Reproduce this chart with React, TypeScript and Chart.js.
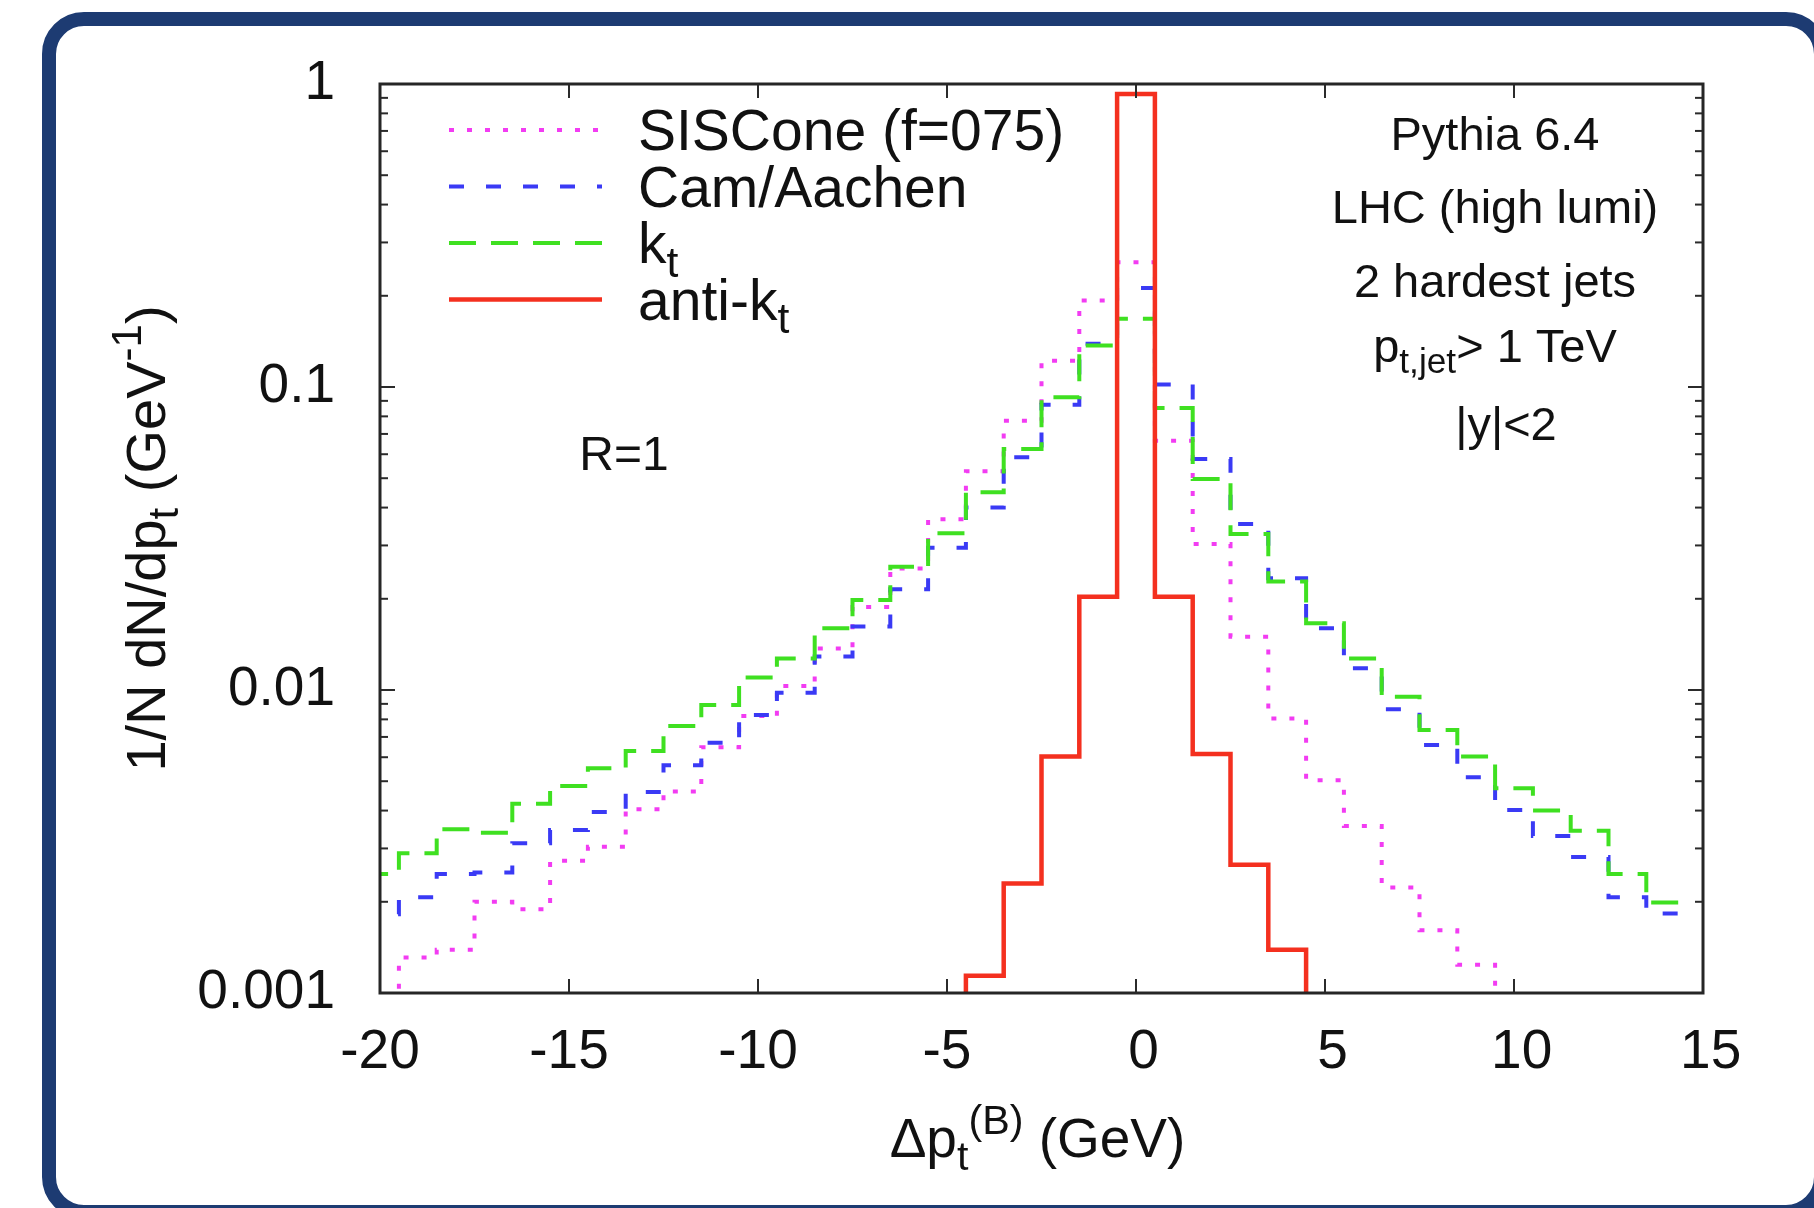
import React, { useEffect, useRef } from "react";
import { Chart, registerables } from "chart.js";

Chart.register(...registerables);

// Δp_t bin centres (GeV), 1 GeV wide bins
const BIN_WIDTH = 1;
const BIN_CENTERS = [
  -20, -19, -18, -17, -16, -15, -14, -13, -12, -11, -10, -9, -8, -7, -6, -5, -4, -3,
  -2, -1, 0, 1, 2, 3, 4, 5, 6, 7, 8, 9, 10, 11, 12, 13, 14,
];

// 1/N dN/dp_t per bin (GeV^-1); null = below the plotted range
const SISCONE = [
  null, 0.00131, 0.00139, 0.002, 0.00189, 0.00273, 0.00304, 0.00404, 0.00462, 0.00647,
  0.0082, 0.0103, 0.0137, 0.0188, 0.0252, 0.0366, 0.0527, 0.0774, 0.122, 0.193,
  0.258, 0.0665, 0.0303, 0.015, 0.00806, 0.00504, 0.00356, 0.00223, 0.00161, 0.00124,
  null, null, null, null, null,
];
const CAM_AACHEN = [
  0.00182, 0.00207, 0.00247, 0.0025, 0.00312, 0.00345, 0.00396, 0.00461, 0.00565, 0.0067,
  0.00827, 0.0098, 0.0129, 0.0162, 0.0215, 0.0295, 0.04, 0.0586, 0.0874, 0.139,
  0.212, 0.102, 0.0579, 0.0353, 0.0234, 0.016, 0.0118, 0.00864, 0.00658, 0.00515,
  0.00402, 0.0033, 0.00281, 0.00207, 0.00183,
];
const KT = [
  0.00247, 0.00289, 0.00347, 0.00338, 0.00421, 0.00482, 0.00552, 0.00629, 0.0076, 0.00892,
  0.011, 0.0127, 0.016, 0.0198, 0.0255, 0.0329, 0.0449, 0.0624, 0.0925, 0.137,
  0.168, 0.0852, 0.0497, 0.0327, 0.0228, 0.0166, 0.0127, 0.0095, 0.00738, 0.00603,
  0.00474, 0.004, 0.00343, 0.00247, 0.00199,
];
const ANTI_KT = [
  null, null, null, null, null, null, null, null, null, null,
  null, null, null, null, null, null, 0.00114, 0.0023, 0.00603, 0.0203,
  0.927, 0.0203, 0.00615, 0.00265, 0.00139, null, null, null, null, null,
  null, null, null, null, null,
];

const X_TICKS = [-20, -15, -10, -5, 0, 5, 10, 15];
const Y_DECADES = [0.001, 0.01, 0.1, 1];
const Y_MIN = 0.001;
const Y_MAX = 1;

const FONT = "'Liberation Sans', Arial, Helvetica, sans-serif";

type Part = { t: string; sub?: boolean; sup?: boolean };

const SERIES = [
  { label: "SISCone (f=075)", rich: [{ t: "SISCone (f=075)" }] as Part[], values: SISCONE, color: "#f23cf2", dash: [5, 13], width: 4, order: 3 },
  { label: "Cam/Aachen", rich: [{ t: "Cam/Aachen" }] as Part[], values: CAM_AACHEN, color: "#3a3af5", dash: [15, 22], width: 4, order: 2 },
  { label: "kt", rich: [{ t: "k" }, { t: "t", sub: true }] as Part[], values: KT, color: "#3fe021", dash: [27, 15], width: 4, order: 1 },
  { label: "anti-kt", rich: [{ t: "anti-k" }, { t: "t", sub: true }] as Part[], values: ANTI_KT, color: "#f4301f", dash: [] as number[], width: 4.5, order: 0 },
];

const INFO_LINES: Part[][] = [
  [{ t: "Pythia 6.4" }],
  [{ t: "LHC (high lumi)" }],
  [{ t: "2 hardest jets" }],
  [{ t: "p" }, { t: "t,jet", sub: true }, { t: "> 1 TeV" }],
  [{ t: "|y|<2" }],
];

// histogram outline: a point on each left bin edge plus the closing right edge
function histSteps(values: (number | null)[]) {
  const below = Y_MIN / 100;
  const pts = values.map((v, i) => ({ x: BIN_CENTERS[i] - BIN_WIDTH / 2, y: v ?? below }));
  const last = values.length - 1;
  pts.push({ x: BIN_CENTERS[last] + BIN_WIDTH / 2, y: values[last] ?? below });
  return pts;
}

function drawRich(ctx: CanvasRenderingContext2D, parts: Part[], x: number, y: number, size: number, align: "left" | "center") {
  const small = size * 0.75;
  const fontFor = (p: Part) => `${p.sub || p.sup ? small : size}px ${FONT}`;
  const widths = parts.map((p) => {
    ctx.font = fontFor(p);
    return ctx.measureText(p.t).width;
  });
  const total = widths.reduce((a, b) => a + b, 0);
  let cx = align === "center" ? x - total / 2 : x;
  ctx.textAlign = "left";
  ctx.textBaseline = "alphabetic";
  parts.forEach((p, i) => {
    ctx.font = fontFor(p);
    const dy = p.sub ? size * 0.24 : p.sup ? -size * 0.42 : 0;
    ctx.fillText(p.t, cx, y + dy);
    cx += widths[i];
  });
}

const decorations = {
  id: "decorations",
  afterDraw(chart: any) {
    const { ctx, chartArea: a, scales } = chart;
    const xs = scales.x;
    const ys = scales.y;
    ctx.save();

    // inward ticks on all four sides
    ctx.strokeStyle = "#2b2b2b";
    ctx.lineWidth = 2;
    ctx.setLineDash([]);
    const seg = (x1: number, y1: number, x2: number, y2: number) => {
      ctx.beginPath();
      ctx.moveTo(x1, y1);
      ctx.lineTo(x2, y2);
      ctx.stroke();
    };
    X_TICKS.forEach((v) => {
      const px = xs.getPixelForValue(v);
      seg(px, a.bottom, px, a.bottom - 14);
      seg(px, a.top, px, a.top + 14);
    });
    Y_DECADES.forEach((d) => {
      const py = ys.getPixelForValue(d);
      seg(a.left, py, a.left + 15, py);
      seg(a.right, py, a.right - 15, py);
      if (d < Y_MAX) {
        for (let m = 2; m <= 9; m++) {
          const pm = ys.getPixelForValue(d * m);
          seg(a.left, pm, a.left + 8, pm);
          seg(a.right, pm, a.right - 8, pm);
        }
      }
    });

    // plot frame
    ctx.lineWidth = 3;
    ctx.strokeStyle = "#262626";
    ctx.strokeRect(a.left, a.top, a.right - a.left, a.bottom - a.top);

    ctx.fillStyle = "#111";

    // key
    const keyX0 = a.left + 69;
    const keyX1 = a.left + 222;
    const textX = a.left + 258;
    SERIES.forEach((s, i) => {
      const base = a.top + 66 + i * 56.5;
      ctx.strokeStyle = s.color;
      ctx.lineWidth = s.width;
      ctx.setLineDash(s.dash);
      seg(keyX0, base - 20, keyX1, base - 20);
      ctx.setLineDash([]);
      drawRich(ctx, s.rich, textX, base, 57, "left");
    });

    // event selection notes
    const infoX = a.left + 1115;
    const infoBase = [66, 139, 213, 278, 356];
    INFO_LINES.forEach((line, i) => {
      drawRich(ctx, line, infoX + (i === 4 ? 11 : 0), a.top + infoBase[i], 47, "center");
    });
    drawRich(ctx, [{ t: "R=1" }], a.left + 244, a.top + 386, 48, "center");

    // axis titles
    drawRich(
      ctx,
      [{ t: "Δp" }, { t: "t", sub: true }, { t: "(B)", sup: true }, { t: " (GeV)" }],
      (a.left + a.right) / 2 - 4,
      a.bottom + 164,
      55,
      "center"
    );
    ctx.save();
    ctx.translate(a.left - 215, (a.top + a.bottom) / 2);
    ctx.rotate(-Math.PI / 2);
    drawRich(
      ctx,
      [{ t: "1/N dN/dp" }, { t: "t", sub: true }, { t: " (GeV" }, { t: "-1", sup: true }, { t: ")" }],
      0,
      0,
      56,
      "center"
    );
    ctx.restore();

    ctx.restore();
  },
};

export default function App() {
  const canvasRef = useRef<HTMLCanvasElement | null>(null);

  useEffect(() => {
    const canvas = canvasRef.current;
    if (!canvas) return;
    const chart = new Chart(canvas, {
      type: "line",
      data: {
        datasets: SERIES.map((s) => ({
          label: s.label,
          data: histSteps(s.values),
          borderColor: s.color,
          borderWidth: s.width,
          borderDash: s.dash,
          borderCapStyle: "butt",
          borderJoinStyle: "miter",
          stepped: "before",
          pointRadius: 0,
          fill: false,
          tension: 0,
          clip: 0,
          order: s.order,
        })),
      },
      options: {
        animation: false,
        responsive: false,
        devicePixelRatio: 1,
        events: [],
        layout: { padding: { top: 84, right: 111, bottom: 0, left: 0 } },
        plugins: { legend: { display: false }, tooltip: { enabled: false }, title: { display: false } },
        scales: {
          x: {
            type: "linear",
            min: -20,
            max: 15,
            grid: { display: false, drawTicks: false },
            border: { display: false },
            afterBuildTicks: (scale: any) => {
              scale.ticks = X_TICKS.map((v) => ({ value: v }));
            },
            afterFit: (scale: any) => {
              scale.height = 215;
            },
            ticks: {
              autoSkip: false,
              maxRotation: 0,
              padding: 27,
              color: "#111",
              font: { family: FONT, size: 55 },
              callback: (v: any) => (Number(v) >= 0 ? " " + v : String(v)),
            },
          },
          y: {
            type: "logarithmic",
            min: Y_MIN,
            max: Y_MAX,
            grid: { display: false, drawTicks: false },
            border: { display: false },
            afterBuildTicks: (scale: any) => {
              scale.ticks = Y_DECADES.map((v) => ({ value: v }));
            },
            afterFit: (scale: any) => {
              scale.width = 380;
            },
            ticks: {
              autoSkip: false,
              padding: 45,
              color: "#111",
              font: { family: FONT, size: 55 },
              callback: (v: any) => String(Number(v)),
            },
          },
        },
      },
      plugins: [decorations],
    });
    return () => chart.destroy();
  }, []);

  return (
    <div
      style={{
        position: "fixed",
        left: 0,
        top: 0,
        width: 1814,
        height: 1208,
        background: "#ffffff",
        overflow: "hidden",
      }}
    >
      <canvas
        ref={canvasRef}
        width={1814}
        height={1208}
        style={{ position: "absolute", left: 0, top: 0, width: 1814, height: 1208 }}
      />
      <div
        style={{
          position: "absolute",
          left: 42,
          top: 12,
          width: 1786,
          height: 1207,
          border: "14px solid #1d3b72",
          borderRadius: 42,
          boxSizing: "border-box",
          pointerEvents: "none",
        }}
      />
    </div>
  );
}
